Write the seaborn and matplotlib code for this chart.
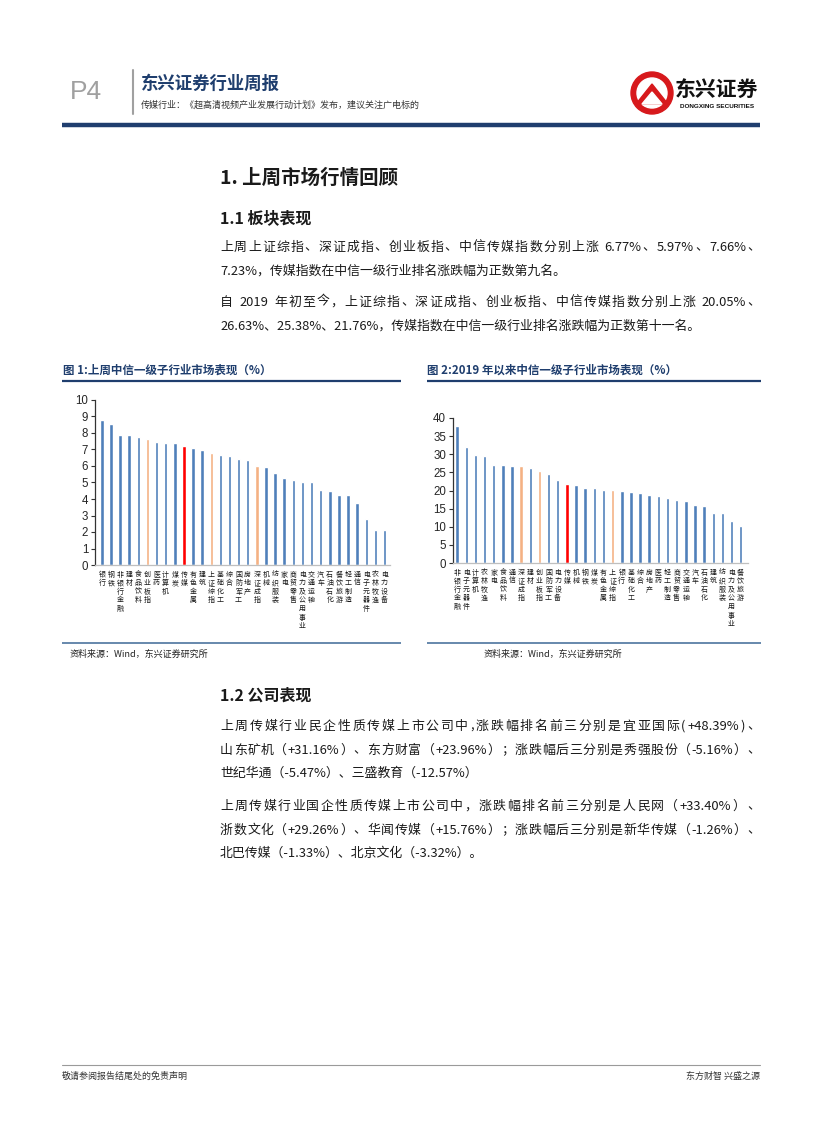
import re
import matplotlib
matplotlib.use("Agg")
import matplotlib.pyplot as plt
import matplotlib.patches as mpatches
import seaborn as sns
import numpy as np

# 图1 上周
week_labels = ["银行", "钢铁", "非银行金融", "建材", "食品饮料", "创业板指", "医药", "计算机",
               "煤炭", "传媒", "有色金属", "建筑", "上证综指", "基础化工", "综合", "国防军工",
               "房地产", "深证成指", "机械", "纺织服装", "家电", "商贸零售", "电力及公用事业",
               "交通运输", "汽车", "石油石化", "餐饮旅游", "轻工制造", "通信", "电子元器件",
               "农林牧渔", "电力设备"]
week_values = [8.80, 8.55, 7.85, 7.85, 7.75, 7.66, 7.45, 7.40, 7.40, 7.23, 7.10, 6.97,
               6.77, 6.65, 6.60, 6.40, 6.35, 5.97, 5.95, 5.60, 5.27, 5.15, 5.05, 5.00,
               4.52, 4.47, 4.22, 4.22, 3.78, 2.80, 2.15, 2.15]

# 图2 2019年以来
ytd_labels = ["非银行金融", "电子元器件", "计算机", "农林牧渔", "家电", "食品饮料", "通信",
              "深证成指", "建材", "创业板指", "国防军工", "电力设备", "传媒", "机械", "钢铁",
              "煤炭", "有色金属", "上证综指", "银行", "基础化工", "综合", "房地产", "医药",
              "轻工制造", "商贸零售", "交通运输", "汽车", "石油石化", "建筑", "纺织服装",
              "电力及公用事业", "餐饮旅游"]
ytd_values = [37.7, 31.9, 29.9, 29.6, 27.1, 27.1, 26.7, 26.63, 26.2, 25.38, 24.5, 22.8,
              21.76, 21.6, 20.8, 20.8, 20.2, 20.05, 19.8, 19.5, 19.3, 18.7, 18.4, 17.8,
              17.3, 17.0, 16.1, 15.6, 13.9, 13.9, 11.6, 10.1]

index_names = ["上证综指", "深证成指", "创业板指"]
media_name = "传媒"

BLUE = "#4f7fba"
ORANGE = "#f4b183"
RED = "#ff0000"
NAVY = "#1f3e6e"

sns.set_style("white")
plt.rcParams["font.family"] = ["Noto Sans CJK SC", "DejaVu Sans"]

W, H = 827, 1122
fig = plt.figure(figsize=(W / 100, H / 100), dpi=100)
renderer = fig.canvas.get_renderer()

page = fig.add_axes([0, 0, 1, 1])
page.set_xlim(0, W)
page.set_ylim(H, 0)
page.axis("off")


def px_axes(x0, x1, y_top, y_bot):
    return fig.add_axes([x0 / W, 1 - y_bot / H, (x1 - x0) / W, (y_bot - y_top) / H])


BODY_FS = 9.3


def body_line(y, text, justify=True, x0=220, x1=760):
    kw = dict(fontsize=BODY_FS, color="#1a1a1a", va="center", ha="left")
    if not justify:
        page.text(x0, y, text, **kw)
        return
    tokens = re.findall(r"[A-Za-z0-9.%+\-]+|\s|.", text)
    widths = []
    for tok in tokens:
        if tok.isspace():
            widths.append(BODY_FS * 1.389 * 0.3)
            continue
        t = page.text(0, 0, tok, **kw)
        widths.append(t.get_window_extent(renderer).width)
        t.remove()
    gap = (x1 - x0 - sum(widths)) / (len(tokens) - 1)
    x = x0
    for tok, w in zip(tokens, widths):
        if not tok.isspace():
            page.text(x, y, tok, **kw)
        x += w + gap


# ---- header ----
page.text(70, 92, "P4", fontsize=19, color="#a0a0a0", va="center", ha="left",
          family=["Liberation Sans", "DejaVu Sans"])
page.plot([133, 133], [70, 114], color="#a0a0a0", lw=1.5)
page.text(141, 84, "东兴证券行业周报", fontsize=12.5, color=NAVY, weight="bold", va="center")
page.text(141, 105, "传媒行业：《超高清视频产业发展行动计划》发布，建议关注广电标的",
          fontsize=6.5, color="#333333", va="center")
# logo
page.add_patch(mpatches.Circle((652, 93), 21, color="#d7191c", zorder=3))
page.add_patch(mpatches.Circle((652, 93), 15, color="white", zorder=4))
page.add_patch(mpatches.Polygon([[636, 104], [652, 84], [668, 104]], color="#d7191c", zorder=5))
page.add_patch(mpatches.Polygon([[642, 104], [652, 92], [662, 104]], color="white", zorder=6))
page.text(717, 89, "东兴证券", fontsize=15, weight="bold", color="#111111", va="center", ha="center")
page.text(717, 106, "DONGXING SECURITIES", fontsize=4.6, weight="bold", color="#111111",
          va="center", ha="center", family=["Liberation Sans", "DejaVu Sans"])
page.plot([62, 760], [125, 125], color=NAVY, lw=3.2, solid_capstyle="butt")

# ---- section 1 ----
page.text(220, 178, "1. 上周市场行情回顾", fontsize=14, weight="bold", color="#1a1a1a", va="center")
page.text(220, 218, "1.1 板块表现", fontsize=11.5, weight="bold", color="#1a1a1a", va="center")

body_line(247, "上周上证综指、深证成指、创业板指、中信传媒指数分别上涨 6.77%、5.97%、7.66%、")
body_line(271, "7.23%，传媒指数在中信一级行业排名涨跌幅为正数第九名。", justify=False)
body_line(302, "自 2019 年初至今，上证综指、深证成指、创业板指、中信传媒指数分别上涨 20.05%、")
body_line(326, "26.63%、25.38%、21.76%，传媒指数在中信一级行业排名涨跌幅为正数第十一名。", justify=False)

# ---- chart titles & frame lines ----
page.text(63, 370, "图 1:上周中信一级子行业市场表现（%）", fontsize=8.3, weight="bold",
          color=NAVY, va="center")
page.text(427, 370, "图 2:2019 年以来中信一级子行业市场表现（%）", fontsize=8.3, weight="bold",
          color=NAVY, va="center")
for x0, x1 in [(62, 401), (427, 761)]:
    page.plot([x0, x1], [381, 381], color=NAVY, lw=1.6, solid_capstyle="butt")
    page.plot([x0, x1], [643, 643], color="#5b7fa6", lw=1.3, solid_capstyle="butt")
src = dict(fontsize=6.5, color="#222222", va="center", style="italic")
page.text(70, 654, "资料来源：Wind，东兴证券研究所", **src)
page.text(484, 654, "资料来源：Wind，东兴证券研究所", **src)


def bar_colors(labels):
    out = []
    for s in labels:
        if s == media_name:
            out.append(RED)
        elif s in index_names:
            out.append(ORANGE)
        else:
            out.append(BLUE)
    return out


def draw_bars(ax, labels, values, ymax, step, xlim):
    sns.barplot(x=labels, y=values, hue=labels, palette=bar_colors(labels),
                legend=False, width=0.38, ax=ax, saturation=1, dodge=False)
    ax.set_ylim(0, ymax)
    ax.set_xlim(*xlim)
    ticks = np.arange(0, ymax + 0.01, step)
    ax.set_yticks(ticks)
    ax.set_yticklabels([f"{int(v)}" for v in ticks],
                       family=["Liberation Sans", "DejaVu Sans"], fontsize=8.3)
    ax.set_xticks(range(len(labels)))
    ax.set_xticklabels(["\n".join(s) for s in labels], fontsize=5.0, va="top",
                       linespacing=1.1, color="#1a1a1a")
    ax.tick_params(axis="x", length=0, pad=4)
    ax.tick_params(axis="y", length=3, width=0.8, color="#333333", pad=2, left=True)
    for sp in ["top", "right"]:
        ax.spines[sp].set_visible(False)
    ax.spines["left"].set_color("#333333")
    ax.spines["left"].set_linewidth(0.9)
    ax.spines["bottom"].set_color("#bfbfbf")
    ax.spines["bottom"].set_linewidth(0.9)
    ax.set_xlabel("")
    ax.set_ylabel("")
    ax.patch.set_alpha(0)


ax1 = px_axes(95, 390, 400, 565)
draw_bars(ax1, week_labels, week_values, 10, 1, (-0.75, 31.6))

ax2 = px_axes(453, 748, 418, 563)
draw_bars(ax2, ytd_labels, ytd_values, 40, 5, (-0.45, 31.8))

# ---- section 1.2 ----
page.text(220, 696, "1.2 公司表现", fontsize=11.5, weight="bold", color="#1a1a1a", va="center")
body_line(726, "上周传媒行业民企性质传媒上市公司中,涨跌幅排名前三分别是宜亚国际(+48.39%)、")
body_line(750, "山东矿机（+31.16%）、东方财富（+23.96%）；涨跌幅后三分别是秀强股份（-5.16%）、")
body_line(773, "世纪华通（-5.47%）、三盛教育（-12.57%）", justify=False)
body_line(806, "上周传媒行业国企性质传媒上市公司中，涨跌幅排名前三分别是人民网（+33.40%）、")
body_line(830, "浙数文化（+29.26%）、华闻传媒（+15.76%）；涨跌幅后三分别是新华传媒（-1.26%）、")
body_line(853, "北巴传媒（-1.33%）、北京文化（-3.32%）。", justify=False)

# ---- footer ----
page.plot([62, 760], [1065, 1065], color="#9a9a9a", lw=0.8)
page.text(62, 1076, "敬请参阅报告结尾处的免责声明", fontsize=6.5, color="#333333", va="center")
page.text(760, 1076, "东方财智 兴盛之源", fontsize=6.5, color="#333333", va="center", ha="right")

fig.savefig("out.png", dpi=100)
plt.close(fig)
